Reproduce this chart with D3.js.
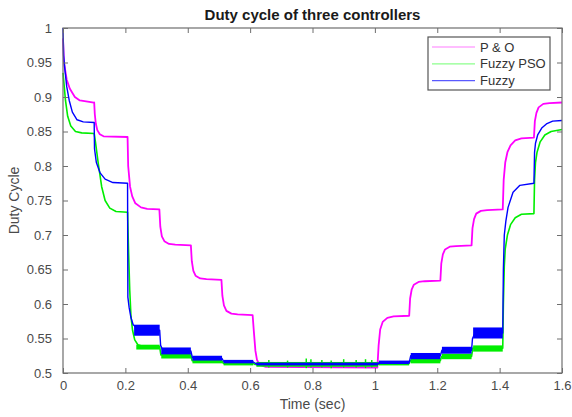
<!DOCTYPE html>
<html><head><meta charset="utf-8">
<script src="https://cdn.jsdelivr.net/npm/d3@7/dist/d3.min.js"></script>
<style>body{margin:0;background:#fff}svg{display:block}</style>
</head><body>
<svg id="chart" width="572" height="417"></svg>
<script>
// ---- data ----
const title = "Duty cycle of three controllers";
const xLabel = "Time (sec)";
const yLabel = "Duty Cycle";
const seriesNames = ["P & O", "Fuzzy PSO", "Fuzzy"];
const xTicks = [0, 0.2, 0.4, 0.6, 0.8, 1, 1.2, 1.4, 1.6];
const xTickLabels = ["0", "0.2", "0.4", "0.6", "0.8", "1", "1.2", "1.4", "1.6"];
const yTicks = [0.5, 0.55, 0.6, 0.65, 0.7, 0.75, 0.8, 0.85, 0.9, 0.95, 1];
const yTickLabels = ["0.5", "0.55", "0.6", "0.65", "0.7", "0.75", "0.8", "0.85", "0.9", "0.95", "1"];

// P & O  [time, duty]
const poValues = [
  [0, 0.985], [0.003, 0.95], [0.012, 0.925], [0.022, 0.912], [0.038, 0.9], [0.054, 0.895], [0.099, 0.892],
  [0.1, 0.892], [0.102, 0.875], [0.105, 0.862], [0.11, 0.852], [0.118, 0.846], [0.13, 0.843], [0.207, 0.842],
  [0.209, 0.8], [0.215, 0.77], [0.222, 0.756], [0.232, 0.746], [0.25, 0.74], [0.27, 0.738], [0.309, 0.737],
  [0.312, 0.712], [0.317, 0.698], [0.325, 0.691], [0.34, 0.687], [0.36, 0.686], [0.41, 0.685],
  [0.413, 0.662], [0.418, 0.648], [0.425, 0.641], [0.44, 0.637], [0.46, 0.636], [0.508, 0.635],
  [0.511, 0.612], [0.516, 0.598], [0.524, 0.59], [0.54, 0.586], [0.56, 0.585], [0.608, 0.584],
  [0.612, 0.56], [0.617, 0.532], [0.622, 0.519], [0.63, 0.512], [0.65, 0.509], [1.008, 0.508],
  [1.012, 0.54], [1.017, 0.563], [1.025, 0.574], [1.04, 0.58], [1.06, 0.582], [1.11, 0.583],
  [1.113, 0.608], [1.118, 0.621], [1.125, 0.628], [1.14, 0.632], [1.16, 0.633], [1.21, 0.634],
  [1.213, 0.659], [1.218, 0.672], [1.225, 0.679], [1.24, 0.683], [1.26, 0.684], [1.31, 0.685],
  [1.313, 0.71], [1.318, 0.723], [1.325, 0.731], [1.34, 0.735], [1.36, 0.736], [1.41, 0.737],
  [1.413, 0.78], [1.418, 0.805], [1.425, 0.82], [1.435, 0.83], [1.45, 0.837], [1.47, 0.84], [1.51, 0.841],
  [1.513, 0.865], [1.518, 0.877], [1.525, 0.885], [1.54, 0.89], [1.56, 0.891], [1.6, 0.892]
];

// Fuzzy PSO
const psoValues = [
  [0, 0.935], [0.003, 0.92], [0.008, 0.895], [0.015, 0.872], [0.025, 0.858], [0.04, 0.85], [0.06, 0.848], [0.1, 0.847],
  [0.104, 0.835], [0.113, 0.804], [0.124, 0.77], [0.135, 0.75], [0.15, 0.739], [0.17, 0.734], [0.207, 0.733],
  [0.21, 0.68], [0.214, 0.62], [0.218, 0.582], [0.223, 0.562], [0.23, 0.548], [0.24, 0.541], [0.26, 0.538], [0.31, 0.538],
  [0.314, 0.526], [0.41, 0.525], [0.414, 0.518], [0.51, 0.517], [0.514, 0.514], [0.61, 0.514], [0.615, 0.5125], [1.01, 0.5125],
  [1.013, 0.514], [1.11, 0.514], [1.114, 0.518], [1.21, 0.518], [1.214, 0.524], [1.31, 0.524], [1.314, 0.536], [1.41, 0.536],
  [1.412, 0.6], [1.415, 0.655], [1.418, 0.68], [1.425, 0.7], [1.435, 0.715], [1.45, 0.725], [1.47, 0.73], [1.51, 0.731],
  [1.512, 0.78], [1.515, 0.805], [1.52, 0.82], [1.53, 0.835], [1.545, 0.845], [1.565, 0.85], [1.6, 0.853]
];

// Fuzzy
const fuzzyValues = [
  [0, 1.0], [0.002, 0.96], [0.006, 0.94], [0.012, 0.915], [0.02, 0.895], [0.03, 0.878], [0.045, 0.867], [0.065, 0.864], [0.1, 0.863],
  [0.101, 0.825], [0.107, 0.805], [0.119, 0.79], [0.135, 0.781], [0.16, 0.776], [0.207, 0.775],
  [0.208, 0.61], [0.212, 0.595], [0.218, 0.58], [0.225, 0.57], [0.24, 0.564], [0.31, 0.562],
  [0.313, 0.54], [0.32, 0.533], [0.41, 0.532], [0.415, 0.522], [0.51, 0.521], [0.515, 0.517], [0.61, 0.516],
  [0.62, 0.513], [1.01, 0.513], [1.013, 0.515], [1.11, 0.515], [1.115, 0.525], [1.21, 0.525], [1.215, 0.533], [1.31, 0.533],
  [1.313, 0.55], [1.32, 0.557], [1.41, 0.558],
  [1.412, 0.65], [1.415, 0.7], [1.42, 0.72], [1.427, 0.74], [1.443, 0.762], [1.465, 0.772], [1.51, 0.775],
  [1.512, 0.82], [1.515, 0.833], [1.522, 0.845], [1.535, 0.855], [1.55, 0.861], [1.57, 0.865], [1.6, 0.866]
];

// ripple bands [tStart, tEnd, low, high]
const psoRipple = [
  [0.235, 0.31, 0.534, 0.541], [0.315, 0.41, 0.521, 0.529], [0.415, 0.51, 0.514, 0.52], [0.515, 0.61, 0.511, 0.517],
  [0.62, 1.01, 0.509, 0.516], [1.013, 1.11, 0.511, 0.517], [1.115, 1.21, 0.514, 0.521], [1.215, 1.31, 0.52, 0.528],
  [1.315, 1.41, 0.531, 0.54]
];
const fuzzyRipple = [
  [0.228, 0.31, 0.554, 0.57], [0.315, 0.41, 0.527, 0.537], [0.415, 0.51, 0.518, 0.525], [0.515, 0.61, 0.514, 0.519],
  [0.62, 1.01, 0.511, 0.515], [1.013, 1.11, 0.513, 0.518], [1.115, 1.21, 0.52, 0.529], [1.215, 1.31, 0.528, 0.538],
  [1.315, 1.41, 0.55, 0.566]
];
// occasional spikes of the Fuzzy PSO trace [time, low, high]
const psoSpikes = [
  [0.66, 0.508, 0.519], [0.72, 0.508, 0.518], [0.78, 0.507, 0.521], [0.795, 0.508, 0.52], [0.83, 0.508, 0.519],
  [0.86, 0.507, 0.518], [0.9, 0.508, 0.52], [0.94, 0.508, 0.519], [0.97, 0.507, 0.52], [0.99, 0.508, 0.519]
];

// ---- drawing ----
const W = 572, H = 417;
const m = {left: 63, top: 28, right: 10, bottom: 44};
const iw = W - m.left - m.right, ih = H - m.top - m.bottom;
const colors = ["#ff00ff", "#00ee00", "#0000ff"];
const legendColors = ["#ff7cff", "#8cff8c", "#5a5aff"];
const font = "'Liberation Sans', Arial, Helvetica, sans-serif";

const svg = d3.select("#chart");
const x = d3.scaleLinear().domain([0, 1.6]).range([0, iw]);
const y = d3.scaleLinear().domain([0.5, 1]).range([ih, 0]);

const g = svg.append("g").attr("transform", `translate(${m.left},${m.top})`);

g.append("rect").attr("width", iw).attr("height", ih).attr("fill", "#fff");

const clip = svg.append("defs").append("clipPath").attr("id", "clip");
clip.append("rect").attr("x", -1).attr("y", -1).attr("width", iw + 2).attr("height", ih + 2);
const plot = g.append("g").attr("clip-path", "url(#clip)");

const line = d3.line().x(d => x(d[0])).y(d => y(d[1]));

function drawSeries(values, ripple, spikes, color, width) {
  plot.append("path").datum(values).attr("d", line)
    .attr("fill", "none").attr("stroke", color).attr("stroke-width", width)
    .attr("stroke-linejoin", "round");
  if (ripple) {
    plot.selectAll(null).data(ripple).enter().append("rect")
      .attr("x", d => x(d[0])).attr("width", d => x(d[1]) - x(d[0]))
      .attr("y", d => y(d[3])).attr("height", d => y(d[2]) - y(d[3]))
      .attr("fill", color);
  }
  if (spikes) {
    plot.selectAll(null).data(spikes).enter().append("line")
      .attr("x1", d => x(d[0])).attr("x2", d => x(d[0]))
      .attr("y1", d => y(d[1])).attr("y2", d => y(d[2]))
      .attr("stroke", color).attr("stroke-width", 1.5);
  }
}
drawSeries(poValues, null, null, colors[0], 1.8);
drawSeries(psoValues, psoRipple, psoSpikes, colors[1], 1.6);
drawSeries(fuzzyValues, fuzzyRipple, null, colors[2], 1.4);

// axes
const axisColor = "#6e6e6e";
const textColor = "#4a4a4a";
function styleAxis(sel, showText) {
  sel.select(".domain").remove();
  sel.selectAll("line").attr("stroke", axisColor);
  sel.selectAll("text").attr("fill", textColor).style("font-family", font).style("font-size", "13px");
  if (!showText) sel.selectAll("text").remove();
}
const xi = d => xTickLabels[xTicks.indexOf(d)];
const yi = d => yTickLabels[yTicks.indexOf(d)];
g.append("g").attr("transform", `translate(0,${ih})`)
  .call(d3.axisBottom(x).tickValues(xTicks).tickFormat(xi).tickSize(-5).tickPadding(8))
  .call(s => styleAxis(s, true));
g.append("g")
  .call(d3.axisTop(x).tickValues(xTicks).tickSize(-5))
  .call(s => styleAxis(s, false));
g.append("g")
  .call(d3.axisLeft(y).tickValues(yTicks).tickFormat(yi).tickSize(-5).tickPadding(11))
  .call(s => styleAxis(s, true));
g.append("g").attr("transform", `translate(${iw},0)`)
  .call(d3.axisRight(y).tickValues(yTicks).tickSize(-5))
  .call(s => styleAxis(s, false));
g.append("rect").attr("width", iw).attr("height", ih)
  .attr("fill", "none").attr("stroke", axisColor).attr("stroke-width", 1.2);

// title and labels
svg.append("text").attr("x", m.left + iw / 2).attr("y", 20).attr("text-anchor", "middle")
  .style("font-family", font).style("font-size", "15px").style("font-weight", "bold")
  .attr("fill", "#1a1a1a").text(title);
svg.append("text").attr("x", m.left + iw / 2).attr("y", 409).attr("text-anchor", "middle")
  .style("font-family", font).style("font-size", "14px").attr("fill", textColor).text(xLabel);
svg.append("text").attr("transform", `translate(19,${m.top + ih / 2}) rotate(-90)`).attr("text-anchor", "middle")
  .style("font-family", font).style("font-size", "14px").attr("fill", textColor).text(yLabel);

// legend
const lg = svg.append("g").attr("transform", "translate(428,37)");
lg.append("rect").attr("width", 122).attr("height", 53).attr("fill", "#fff")
  .attr("stroke", "#555").attr("stroke-width", 1.2);
const rows = lg.selectAll(null).data(seriesNames).enter().append("g")
  .attr("transform", (d, i) => `translate(0,${10 + i * 16.8})`);
rows.append("line").attr("x1", 4).attr("x2", 47).attr("stroke", (d, i) => legendColors[i]).attr("stroke-width", 1.2);
rows.append("text").attr("x", 52).attr("y", 4.5).style("font-family", font).style("font-size", "13px")
  .attr("fill", "#333").text(d => d);
</script>
</body></html>
